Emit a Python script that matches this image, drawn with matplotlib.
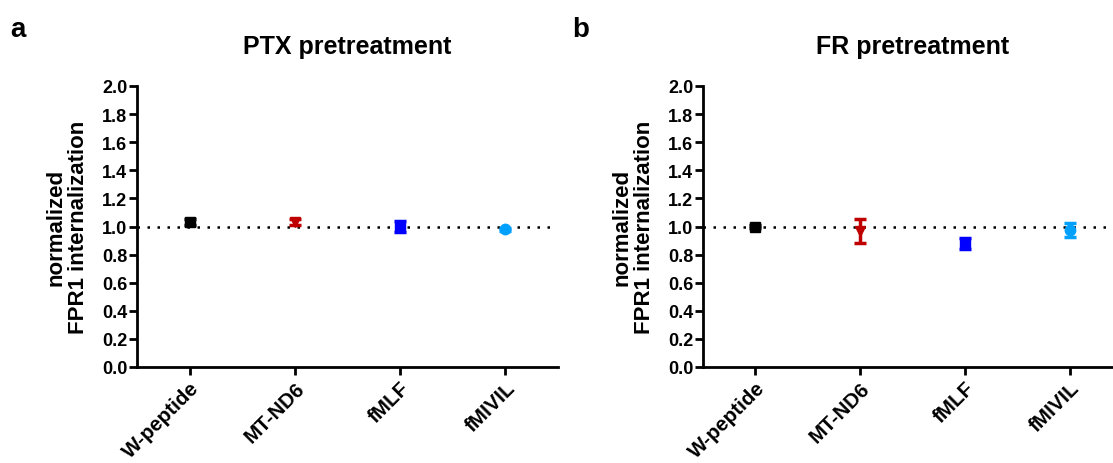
import matplotlib
matplotlib.use("Agg")
import matplotlib.pyplot as plt

plt.rcParams['font.family'] = ['Liberation Sans', 'DejaVu Sans']
plt.rcParams['font.weight'] = 'bold'

categories = ["W-peptide", "MT-ND6", "fMLF", "fMIVIL"]
colors = ["#000000", "#c00000", "#0000ff", "#00a0ff"]
markers = ["s", "v", "s", "o"]

ptx_mean = [1.03, 1.03, 1.00, 0.98]
ptx_err = [0.02, 0.02, 0.04, 0.01]
fr_mean = [1.00, 0.97, 0.88, 0.975]
fr_err = [0.01, 0.085, 0.04, 0.05]

titles = ["PTX pretreatment", "FR pretreatment"]
panel_letters = ["a", "b"]
yticks = [0.0, 0.2, 0.4, 0.6, 0.8, 1.0, 1.2, 1.4, 1.6, 1.8, 2.0]

W, H = 1113, 464
fig = plt.figure(figsize=(W / 100, H / 100), dpi=100)

def frac(x0, y0, x1, y1):
    return [x0 / W, 1 - y1 / H, (x1 - x0) / W, (y1 - y0) / H]

axes_px = [(137, 87, 558, 368), (703, 87, 1122, 368)]
xlims = [(-0.5, 3.5), (-0.5, 3.5)]
dot_end = [3.44, 3.5]
letter_x = [10, 572]

for i, (means, errs) in enumerate([(ptx_mean, ptx_err), (fr_mean, fr_err)]):
    ax = fig.add_axes(frac(*axes_px[i]))
    ax.set_xlim(*xlims[i])
    ax.set_ylim(0, 2.0)
    ax.plot([-0.5, dot_end[i]], [1.0, 1.0], linestyle=(0, (1, 3)), color='black', lw=1.8, zorder=1)
    for j, cat in enumerate(categories):
        ax.errorbar(j, means[j], yerr=errs[j], fmt=markers[j], color=colors[j],
                    markersize=7.5, capsize=4, capthick=2.5, elinewidth=2.5, zorder=3)
    ax.set_xticks(range(len(categories)))
    ax.set_xticklabels(categories, rotation=45, ha='right', rotation_mode='anchor',
                       fontsize=14.8, fontweight='bold')
    ax.set_yticks(yticks)
    ax.set_yticklabels([f"{v:.1f}" for v in yticks], fontsize=13, fontweight='bold')
    for s in ['top', 'right']:
        ax.spines[s].set_visible(False)
    for s in ['left', 'bottom']:
        ax.spines[s].set_linewidth(2)
    ax.tick_params(axis='y', width=2, length=6, direction='out', pad=1)
    ax.tick_params(axis='x', width=2, length=6, direction='out', pad=2)
    ax.set_ylabel("normalized\nFPR1 internalization", fontsize=16, fontweight='bold',
                  linespacing=1.1, labelpad=9)
    ax.set_title(titles[i], fontsize=18, fontweight='bold', pad=24)
    fig.text(letter_x[i] / W, 1 - 30 / H, panel_letters[i], fontsize=20, fontweight='bold',
             ha='left', va='center')

fig.savefig("out.png", dpi=100)
